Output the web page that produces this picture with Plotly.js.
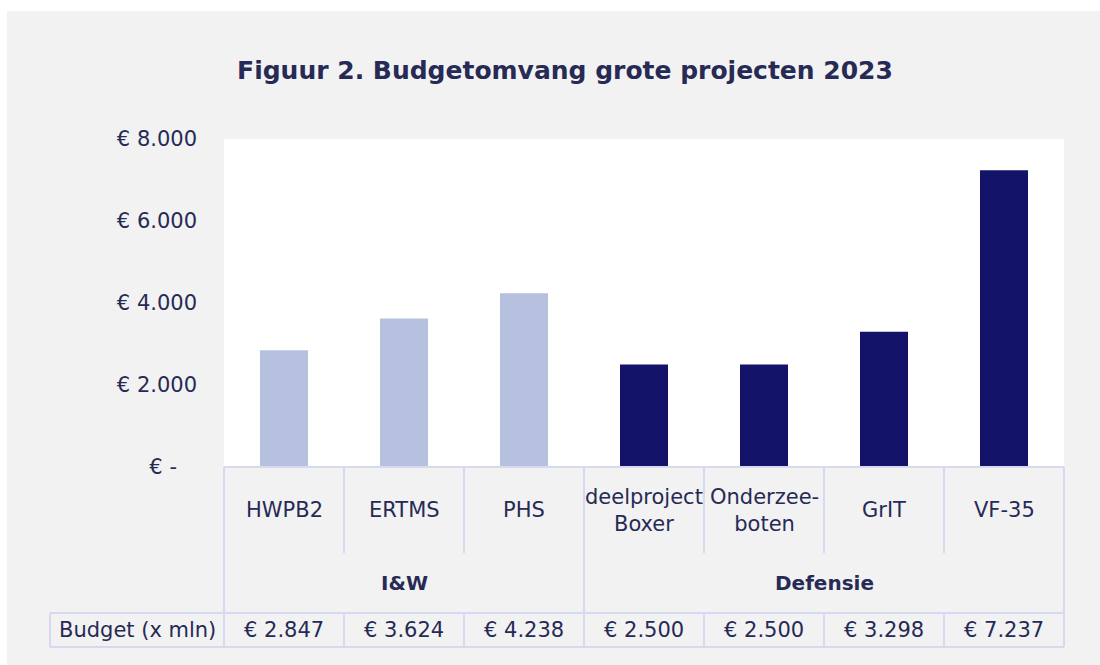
<!DOCTYPE html>
<html>
<head>
<meta charset="utf-8">
<script src="https://cdn.plot.ly/plotly-3.0.1.min.js"></script>
<style>html,body{margin:0;padding:0;background:#fff;}#chart{width:1100px;height:665px;}</style>
</head>
<body>
<div id="chart"></div>
<script>
// ---- data ----
var categories = ["HWPB2", "ERTMS", "PHS", "deelproject Boxer", "Onderzee- boten", "GrIT", "VF-35"];
var categoryLabels = ["HWPB2", "ERTMS", "PHS", "deelproject<br>Boxer", "Onderzee-<br>boten", "GrIT", "VF-35"];
var budgets = [2847, 3624, 4238, 2500, 2500, 3298, 7237];
var groups = ["I&W", "I&W", "I&W", "Defensie", "Defensie", "Defensie", "Defensie"];
var groupNames = ["I&W", "Defensie"];
var yTickVals = [0, 2000, 4000, 6000, 8000];
var yTickText = ["€ -\u00a0\u00a0\u00a0", "€ 2.000", "€ 4.000", "€ 6.000", "€ 8.000"];
var rowLabel = "Budget (x mln)";

// ---- styling ----
var TXT = "#262a55";
var FONT = "DejaVu Sans, Verdana, sans-serif";
var LINE = "#d6d9ef";
var groupColors = {"I&W": "#b6c1e0", "Defensie": "#13136a"};

function fmt(n) {
  var s = String(Math.round(n));
  return "€ " + s.replace(/\B(?=(\d{3})+(?!\d))/g, ".");
}

// plot area in px: x 224..1064, y 139..467
var L = 224, R = 1064, T = 139, B = 467;
function px(x) { return (x - L) / (R - L); }
function py(y) { return (B - y) / (B - T); }

var traces = groupNames.map(function (g) {
  var xs = [], ys = [];
  categories.forEach(function (c, i) { if (groups[i] === g) { xs.push(c); ys.push(budgets[i]); } });
  return {type: "bar", x: xs, y: ys, name: g, width: 0.4,
          marker: {color: groupColors[g], line: {width: 0}}, hoverinfo: "skip"};
});

var n = categories.length;
var shapes = [];
// white outer margins (top + left strips)
shapes.push({type: "rect", xref: "paper", yref: "paper", x0: px(0), x1: px(1100), y0: py(11), y1: py(0),
             line: {width: 0}, fillcolor: "#ffffff", layer: "above"});
shapes.push({type: "rect", xref: "paper", yref: "paper", x0: px(0), x1: px(7), y0: py(665), y1: py(0),
             line: {width: 0}, fillcolor: "#ffffff", layer: "above"});
var ln = {color: LINE, width: 2};
var yTop = py(467), yCatBot = py(553), yRowTop = py(613), yRowBot = py(647);
// horizontal lines
shapes.push({type: "line", xref: "paper", yref: "paper", x0: 0, x1: 1, y0: yTop, y1: yTop, line: ln});
shapes.push({type: "line", xref: "paper", yref: "paper", x0: px(50), x1: 1, y0: yRowTop, y1: yRowTop, line: ln});
shapes.push({type: "line", xref: "paper", yref: "paper", x0: px(50), x1: 1, y0: yRowBot, y1: yRowBot, line: ln});
shapes.push({type: "line", xref: "paper", yref: "paper", x0: px(50), x1: px(50), y0: yRowTop, y1: yRowBot, line: ln});
// vertical lines
for (var i = 0; i <= n; i++) {
  var xp = i / n;
  var isGroupEdge = (i === 0 || i === n || groups[i] !== groups[i - 1]);
  if (isGroupEdge) {
    shapes.push({type: "line", xref: "paper", yref: "paper", x0: xp, x1: xp, y0: yTop, y1: yRowBot, line: ln});
  } else {
    shapes.push({type: "line", xref: "paper", yref: "paper", x0: xp, x1: xp, y0: yTop, y1: yCatBot, line: ln});
    shapes.push({type: "line", xref: "paper", yref: "paper", x0: xp, x1: xp, y0: yRowTop, y1: yRowBot, line: ln});
  }
}

var annotations = [];
var f = {family: FONT, size: 21, color: TXT};
categories.forEach(function (c, i) {
  annotations.push({xref: "x", yref: "paper", x: c, y: py(510), text: categoryLabels[i],
                    showarrow: false, xanchor: "center", yanchor: "middle", font: f});
  annotations.push({xref: "x", yref: "paper", x: c, y: py(630), text: fmt(budgets[i]),
                    showarrow: false, xanchor: "center", yanchor: "middle", font: f});
});
groupNames.forEach(function (g) {
  var idx = [];
  groups.forEach(function (gg, i) { if (gg === g) idx.push(i); });
  var mid = (idx[0] + idx[idx.length - 1]) / 2;
  annotations.push({xref: "x", yref: "paper", x: mid, y: py(583), text: "<b>" + g + "</b>",
                    showarrow: false, xanchor: "center", yanchor: "middle",
                    font: {family: FONT, size: 20, color: TXT}});
});
annotations.push({xref: "paper", yref: "paper", x: px(137), y: py(630), text: rowLabel,
                  showarrow: false, xanchor: "center", yanchor: "middle", font: f});

var layout = {
  width: 1100, height: 665,
  margin: {l: L, r: 1100 - R, t: T, b: 665 - B, pad: 0},
  paper_bgcolor: "#f2f2f2",
  plot_bgcolor: "#ffffff",
  showlegend: false,
  barmode: "overlay",
  title: {text: "<b>Figuur 2. Budgetomvang grote projecten 2023</b>",
          font: {family: FONT, size: 25, color: TXT},
          x: 565 / 1100, xref: "container", xanchor: "center",
          y: 1 - 70 / 665, yref: "container", yanchor: "middle"},
  xaxis: {type: "category", categoryorder: "array", categoryarray: categories,
          range: [-0.5, n - 0.5], showticklabels: false, showgrid: false,
          zeroline: false, showline: false, ticks: "", fixedrange: true},
  yaxis: {range: [0, 8000], tickvals: yTickVals, ticktext: yTickText,
          showgrid: false, zeroline: false, showline: false, ticks: "",
          ticklabelstandoff: 26,
          tickfont: {family: FONT, size: 21, color: TXT}, fixedrange: true},
  shapes: shapes,
  annotations: annotations
};

Plotly.newPlot("chart", traces, layout, {displayModeBar: false, staticPlot: true});
</script>
</body>
</html>
